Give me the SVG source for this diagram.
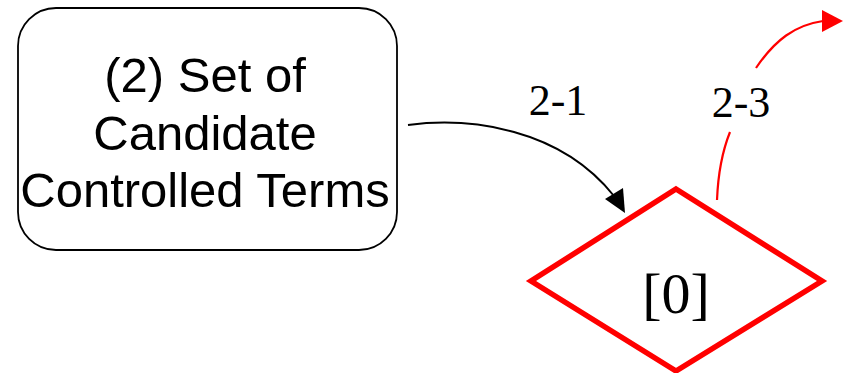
<svg xmlns="http://www.w3.org/2000/svg" width="846" height="373" viewBox="0 0 846 373">
<style>
.box{fill:#fff;stroke:#000;stroke-width:1.8}
.dia{fill:#fff;stroke:#f00;stroke-width:5.5}
.t1{font-family:"Liberation Sans",Arial,sans-serif;font-size:49px;fill:#000;text-anchor:middle}
.t2{font-family:"Liberation Serif","Times New Roman",serif;fill:#000;text-anchor:middle}
.e{fill:none}
</style>
<rect width="846" height="373" fill="#fff"/>
<g id="node-set">
<rect class="box" x="18" y="8" width="379" height="242" rx="38" ry="38"/>
<text class="t1" x="205" y="92">(2) Set of</text>
<text class="t1" x="205" y="150">Candidate</text>
<text class="t1" x="205" y="207">Controlled Terms</text>
</g>
<g id="node-zero">
<polygon class="dia" points="676,189 822,281 676,371 531,281"/>
<text class="t2" x="676" y="313" font-size="58">[0]</text>
</g>
<g id="connectors">
<path class="e" d="M408,125 C470,117 560,128 614,196" stroke="#000" stroke-width="2"/>
<polygon points="625,213 605,199 623,188" fill="#000"/>
<text class="t2" x="558" y="115" font-size="44">2-1</text>
<path class="e" d="M717,200 C718,175 722,152 730,132" stroke="#f00" stroke-width="2.2"/>
<path class="e" d="M756,68 C775,40 795,25 823,21" stroke="#f00" stroke-width="2.2"/>
<polygon points="843,21 822,10 822,32" fill="#f00"/>
<text class="t2" x="741" y="117" font-size="44">2-3</text>
</g>
</svg>
